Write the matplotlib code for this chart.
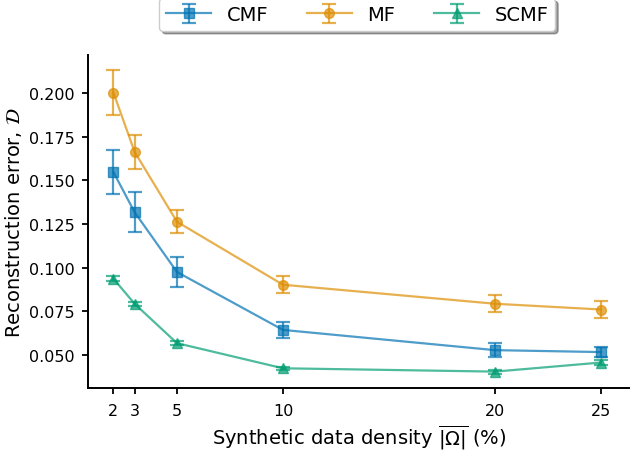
import matplotlib
matplotlib.use("Agg")
import matplotlib.pyplot as plt
import numpy as np

# values
density = [2, 3, 5, 10, 20, 25]

cmf_mean = [0.1548, 0.1318, 0.0975, 0.0643, 0.0527, 0.0516]
cmf_err = [0.0127, 0.0115, 0.0088, 0.0045, 0.0040, 0.0030]

mf_mean = [0.2004, 0.1664, 0.1263, 0.0902, 0.0793, 0.0760]
mf_err = [0.0127, 0.0098, 0.0067, 0.0050, 0.0048, 0.0049]

scmf_mean = [0.0937, 0.0793, 0.0567, 0.0423, 0.0404, 0.0456]
scmf_err = [0.0013, 0.0012, 0.0012, 0.0010, 0.0012, 0.0013]

xticks = [2, 3, 5, 10, 20, 25]

colors = ['#0173b2', '#de8f05', '#029e73']

fig = plt.figure(figsize=(6.3, 4.52), dpi=100)
ax = fig.add_axes([88/630, 63/452, 542/630, 333/452])

series = [('CMF', cmf_mean, cmf_err, 's'),
          ('MF', mf_mean, mf_err, 'o'),
          ('SCMF', scmf_mean, scmf_err, '^')]

for (name, m, e, mk), c in zip(series, colors):
    ax.errorbar(density, m, yerr=e, color=c, marker=mk, markersize=7,
                linewidth=1.6, capsize=5, capthick=1.6, elinewidth=1.6,
                alpha=0.7, label=name)

ax.set_xlim(0.802, 26.37)
ax.set_ylim(0.031, 0.2219)
ax.set_xticks(xticks)
ax.set_yticks([0.050, 0.075, 0.100, 0.125, 0.150, 0.175, 0.200])
ax.yaxis.set_major_formatter(matplotlib.ticker.FormatStrFormatter('%.3f'))
ax.tick_params(axis='x', labelsize=11.5, width=1.3, length=4.3, pad=6.5)
ax.tick_params(axis='y', labelsize=11.5, width=1.3, length=4.3, pad=5)

ax.spines['top'].set_visible(False)
ax.spines['right'].set_visible(False)
for sp in ['left', 'bottom']:
    ax.spines[sp].set_linewidth(1.4)

ax.set_xlabel(r'Synthetic data density $\overline{|\Omega|}$ (%)', fontsize=14,
              labelpad=3)
ax.set_ylabel(r'Reconstruction error, $\mathcal{D}$', fontsize=14)

leg = ax.legend(loc='upper center', bbox_to_anchor=(0.497, 1.17), ncol=3,
                fontsize=14, shadow=True, fancybox=True, handlelength=2.3,
                columnspacing=2.0, borderaxespad=0, borderpad=0.35)
leg.get_frame().set_edgecolor('#cccccc')

fig.savefig('out.png', dpi=100)
